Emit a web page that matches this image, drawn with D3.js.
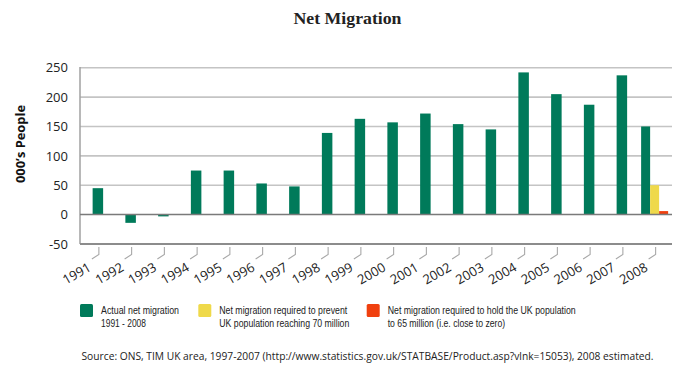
<!DOCTYPE html>
<html>
<head>
<meta charset="utf-8">
<script src="https://cdn.jsdelivr.net/npm/d3@7"></script>
<style>
  html, body { margin: 0; padding: 0; background: #fff; }
  svg { display: block; }
</style>
</head>
<body>
<svg id="chart" width="690" height="384"></svg>
<script>
// ---- data ----
const years = ["1991","1992","1993","1994","1995","1996","1997","1998","1999","2000",
               "2001","2002","2003","2004","2005","2006","2007","2008"];
const actualMigration = [45, -14, -3, 75, 75, 53, 48, 139, 163, 157,
                         172, 154, 145, 242, 205, 187, 237, 150];
const prevent70Year = "2008";
const prevent70Value = 50;
const hold65Year = "2008";
const hold65Value = 6;
const yTicks = [-50, 0, 50, 100, 150, 200, 250];
const seriesNames = ["actual", "prevent70", "hold65"];
const seriesColors = ["#007a5a", "#efd94a", "#f0400f"];
const legendLabels = [
  ["Actual net migration", "1991 - 2008"],
  ["Net migration required to prevent", "UK population reaching 70 million"],
  ["Net migration required to hold the UK population", "to 65 million (i.e. close to zero)"]
];
const titleText = "Net Migration";
const yAxisTitle = "000\u2019s People";
const sourceText = "Source: ONS, TIM UK area, 1997-2007 (http://www.statistics.gov.uk/STATBASE/Product.asp?vlnk=15053), 2008 estimated.";

// ---- layout ----
const svg = d3.select("#chart");
const plotL = 80, plotR = 672, plotT = 67.7, plotB = 244;

const x = d3.scaleBand().domain(years).range([81.5, 671]);
const y = d3.scaleLinear().domain([-50, 250]).range([plotB, plotT]);
const bw = x.bandwidth();
const singleW = 10.5;
const x1 = d3.scaleBand().domain(seriesNames).range([-13.5, 13.5]);

// Title
svg.append("text")
  .attr("x", 347.5).attr("y", 23.5)
  .attr("text-anchor", "middle")
  .attr("font-family", "'Liberation Serif', 'DejaVu Serif', serif")
  .attr("font-weight", "bold")
  .attr("font-size", 17.5)
  .attr("fill", "#222")
  .attr("textLength", 108).attr("lengthAdjust", "spacingAndGlyphs")
  .text(titleText);

// Gridlines
const g = svg.append("g");
g.selectAll("line.grid")
  .data(yTicks.filter(d => d !== 0 && d !== -50))
  .join("line")
  .attr("class", "grid")
  .attr("x1", plotL).attr("x2", plotR)
  .attr("y1", d => y(d)).attr("y2", d => y(d))
  .attr("stroke", "#c4c4c4").attr("stroke-width", 1.6);

// Left axis line
g.append("line")
  .attr("x1", plotL).attr("x2", plotL)
  .attr("y1", y(250) - 0.8).attr("y2", y(-50))
  .attr("stroke", "#a0a0a0").attr("stroke-width", 1.5);

// Bottom line at -50
g.append("line")
  .attr("x1", plotL).attr("x2", plotR)
  .attr("y1", y(-50)).attr("y2", y(-50))
  .attr("stroke", "#8c8c8c").attr("stroke-width", 1.8);

// Y tick labels
svg.append("g").selectAll("text")
  .data(yTicks)
  .join("text")
  .attr("x", 68).attr("y", d => y(d))
  .attr("dy", "0.36em")
  .attr("text-anchor", "end")
  .attr("font-family", "'Open Sans', sans-serif")
  .attr("font-size", 13)
  .attr("fill", "#222")
  .text(d => d);

// Y axis title
svg.append("text")
  .attr("transform", "translate(24.5,144) rotate(-90)")
  .attr("text-anchor", "middle")
  .attr("font-family", "'Open Sans', sans-serif")
  .attr("font-weight", "bold")
  .attr("font-size", 12.5)
  .attr("fill", "#111")
  .attr("textLength", 78).attr("lengthAdjust", "spacingAndGlyphs")
  .text(yAxisTitle);

// Bars
const bars = svg.append("g");
const barData = [];
years.forEach((yr, i) => {
  const cx = x(yr) + bw / 2;
  const isGroup = (yr === prevent70Year);
  if (isGroup) {
    barData.push({ cx: cx + x1("actual"), w: x1.bandwidth(), v: actualMigration[i], c: seriesColors[0] });
  } else {
    barData.push({ cx: cx - singleW / 2, w: singleW, v: actualMigration[i], c: seriesColors[0] });
  }
  if (yr === prevent70Year) {
    barData.push({ cx: cx + x1("prevent70"), w: x1.bandwidth(), v: prevent70Value, c: seriesColors[1] });
  }
  if (yr === hold65Year) {
    barData.push({ cx: cx + x1("hold65"), w: x1.bandwidth(), v: hold65Value, c: seriesColors[2] });
  }
});
bars.selectAll("rect")
  .data(barData)
  .join("rect")
  .attr("x", d => d.cx)
  .attr("width", d => d.w)
  .attr("y", d => Math.min(y(d.v), y(0)))
  .attr("height", d => Math.abs(y(d.v) - y(0)))
  .attr("fill", d => d.c);

// Zero line (on top of bars)
svg.append("line")
  .attr("x1", plotL).attr("x2", plotR)
  .attr("y1", y(0)).attr("y2", y(0))
  .attr("stroke", "#7a7a7a").attr("stroke-width", 1.5);

// X ticks (hooked)
const xt = svg.append("g");
years.forEach(yr => {
  const cx = x(yr) + bw / 2 + 1;
  xt.append("path")
    .attr("d", `M${cx},247 L${cx},254.5 L${cx - 7},259`)
    .attr("fill", "none")
    .attr("stroke", "#a8a8a8").attr("stroke-width", 1.1);
  xt.append("text")
    .attr("transform", `translate(${cx - 7},${270}) rotate(-30)`)
    .attr("text-anchor", "end")
    .attr("font-family", "'Open Sans', sans-serif")
    .attr("font-size", 13)
    .attr("fill", "#222")
    .text(yr);
});

// Legend
const legendX = [80, 198.3, 366.7];
const legendW = [[78, 45], [128, 130], [188, 117.5]];
const lg = svg.append("g");
seriesNames.forEach((s, i) => {
  lg.append("rect")
    .attr("x", legendX[i]).attr("y", 304)
    .attr("width", 13).attr("height", 13)
    .attr("rx", 1.5)
    .attr("fill", seriesColors[i]);
  legendLabels[i].forEach((line, j) => {
    lg.append("text")
      .attr("x", legendX[i] + 21).attr("y", 314 + j * 12.5)
      .attr("font-family", "'Liberation Sans Narrow', 'Liberation Sans', sans-serif")
      .attr("font-size", 11.5)
      .attr("fill", "#222")
      .attr("textLength", legendW[i][j]).attr("lengthAdjust", "spacingAndGlyphs")
      .text(line);
  });
});

// Source
svg.append("text")
  .attr("x", 81.5).attr("y", 359.5)
  .attr("font-family", "'Open Sans', sans-serif")
  .attr("font-size", 10.5)
  .attr("fill", "#222")
  .attr("textLength", 572).attr("lengthAdjust", "spacingAndGlyphs")
  .text(sourceText);
</script>
</body>
</html>
